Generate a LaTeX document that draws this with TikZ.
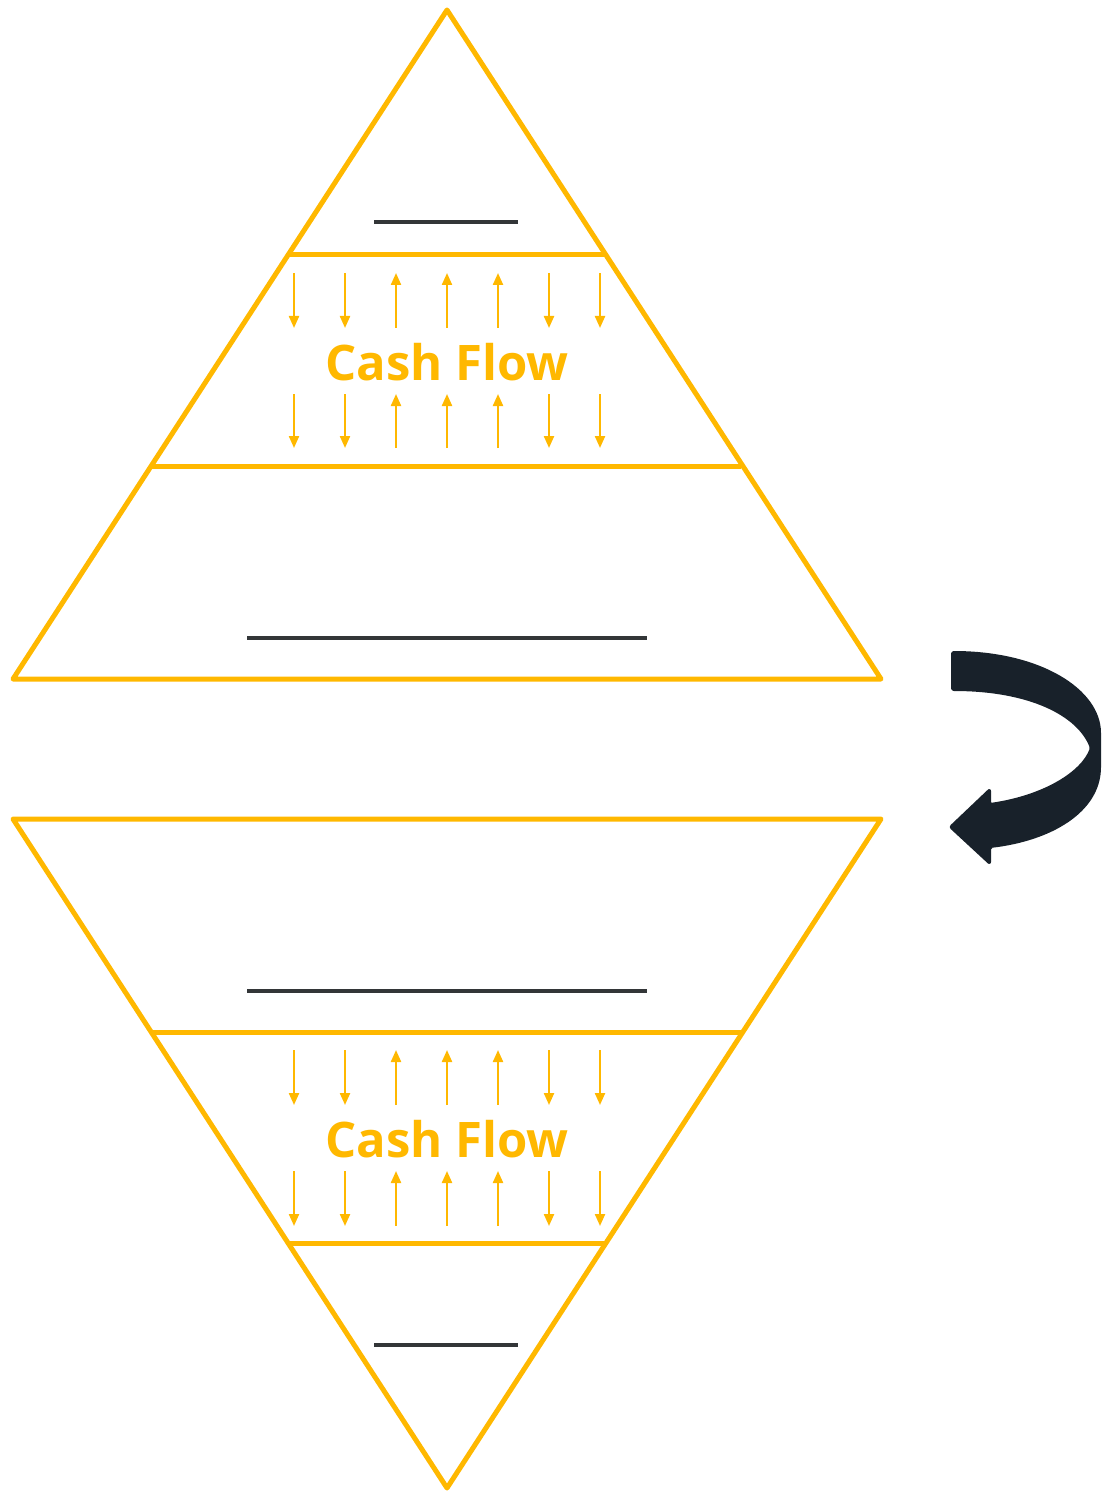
\documentclass[tikz,border=0pt]{standalone}
\usepackage{fontspec}
\setsansfont{Open Sans}
\usetikzlibrary{arrows.meta}
\definecolor{c1}{HTML}{FFB800}
\definecolor{c2}{HTML}{333638}
\definecolor{c3}{HTML}{18212A}

\begin{document}
\begin{tikzpicture}[
    x=0.5pt, y=-0.5pt,
    every node/.style={font=\sffamily},
    tri/.style={draw=c1, line width=2.5pt, line join=round},
    band/.style={draw=c1, line width=2.5pt},
    blank/.style={draw=c2, line width=1.6pt},
    flow/.style={-{Triangle[length=6pt, width=5pt]}, line width=1.1pt, color=c1},
    lab/.style={font=\sffamily\bfseries\fontsize{24.5}{28}\selectfont, text=c1},
]
\useasboundingbox (0,0) rectangle (1108,1492);

% ================================================================ top pyramid
\draw[tri] (447,10) -- (881,679) -- (13,679) -- cycle;
\draw[band] (289,255) -- (605,255);
\draw[band] (152,466) -- (741,466);
\draw[blank] (374,222) -- (518,222);
\draw[blank] (247,638) -- (647,638);
\node[lab] (flowtop) at (447,362) {Cash Flow};
\foreach \x/\d in {294/1, 345/1, 396/0, 447/0, 498/0, 549/1, 600/1}{
    \ifnum\d=1
        \draw[flow] (\x,273) -- (\x,328);
        \draw[flow] (\x,394) -- (\x,448);
    \else
        \draw[flow] (\x,328) -- (\x,273);
        \draw[flow] (\x,448) -- (\x,394);
    \fi
}

% ================================================================ bottom pyramid, upside down
\draw[tri] (13,819) -- (881,819) -- (447,1488) -- cycle;
\draw[band] (152,1032) -- (741,1032);
\draw[band] (289,1243) -- (605,1243);
\draw[blank] (247,991) -- (647,991);
\draw[blank] (374,1345) -- (518,1345);
\node[lab] (flowbot) at (447,1139) {Cash Flow};
\foreach \x/\d in {294/1, 345/1, 396/0, 447/0, 498/0, 549/1, 600/1}{
    \ifnum\d=1
        \draw[flow] (\x,1050) -- (\x,1105);
        \draw[flow] (\x,1171) -- (\x,1226);
    \else
        \draw[flow] (\x,1105) -- (\x,1050);
        \draw[flow] (\x,1226) -- (\x,1171);
    \fi
}

% ================================================================ turn-over arrow
\filldraw[c3, line width=1pt, line join=round, rounded corners=1pt]
    (952,652) .. controls (1040,652) and (1100,690) .. (1100,735)
    -- (1100,765) .. controls (1100,812) and (1050,840) .. (990,847)
    -- (990,864) -- (950,827) -- (990,789) -- (990,804)
    .. controls (1045,796) and (1082,772) .. (1091,748)
    .. controls (1078,715) and (1030,690) .. (952,690) -- cycle;

\end{tikzpicture}
\end{document}
